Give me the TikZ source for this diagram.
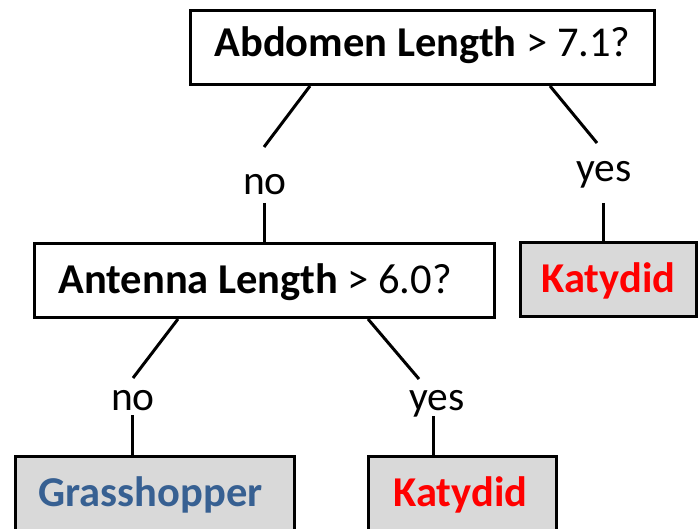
\documentclass[tikz,border=0pt]{standalone}
\usepackage{fontspec}
\setmainfont{Carlito}
\usetikzlibrary{calc}
\definecolor{leafgray}{HTML}{D9D9D9}
\definecolor{katred}{HTML}{FF0000}
\definecolor{grassblue}{HTML}{376092}
\tikzset{
  box/.style={draw=black, line width=3pt, inner ysep=0pt, inner xsep=0pt,
    text height=50pt, text depth=24pt, anchor=north west, align=center,
    font=\fontsize{42.5}{46}\selectfont},
  leaf/.style={box, fill=leafgray, font=\fontsize{42.5}{46}\selectfont\bfseries},
  lab/.style={anchor=base, inner sep=0pt, font=\fontsize{41.5}{45}\selectfont},
  wire/.style={line width=3pt, black}
}
\begin{document}
\begin{tikzpicture}[x=1pt, y=-1pt]
  \useasboundingbox (0,0) rectangle (698,529);
  \clip (0,0) rectangle (698,529);

  % decision nodes
  \node[box, minimum width=464pt, text height=46pt, text depth=28pt] (q1) at (189,9)
    {\textbf{Abdomen Length} > 7.1?};
  \node[box, text width=412pt, inner xsep=24pt, align=flush left] (q2) at (33,242)
    {\textbf{Antenna Length} > 6.0?};

  % leaves
  \node[leaf, minimum width=176pt, text=katred] (k1) at (519,241) {Katydid};
  \node[leaf, text width=233pt, inner xsep=23pt, align=flush left, text depth=26pt,
    text=grassblue] (g) at (14,455) {Grasshopper};
  \node[leaf, text width=138pt, inner xsep=25pt, align=flush left, text depth=26pt,
    text=katred] (k2) at (367,455) {Katydid};

  % branch labels
  \node[lab] (no1) at (265,195) {no};
  \node[lab] (yes1) at (604,182) {yes};
  \node[lab] (no2) at (133,410) {no};
  \node[lab] (yes2) at (437,410) {yes};

  % branches
  \draw[wire] ($(q1.south west)+(121,0)$) -- ($(no1.base)+(-1,-48)$);
  \draw[wire] ($(no1.base)+(-1,8)$) coordinate (t1) -- (t1 |- q2.north);
  \draw[wire] ($(q1.south east)+(-106,0)$) -- ($(yes1.base)+(-7,-39)$);
  \draw[wire] ($(yes1.base)+(-1,21)$) coordinate (t2) -- (t2 |- k1.north);
  \draw[wire] ($(q2.south west)+(145,0)$) -- ($(no2.base)+(0,-32)$);
  \draw[wire] ($(no2.base)+(-1,5)$) coordinate (t3) -- (t3 |- g.north);
  \draw[wire] ($(q2.south west)+(335,0)$) -- ($(yes2.base)+(-18,-31)$);
  \draw[wire] ($(yes2.base)+(-4,6)$) coordinate (t4) -- (t4 |- k2.north);
\end{tikzpicture}
\end{document}
